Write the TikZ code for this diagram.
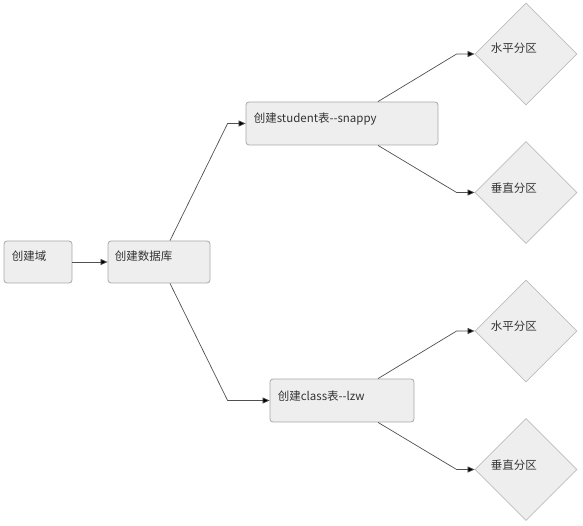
\documentclass[tikz,border=0pt]{standalone}
\usepackage{fontspec}
\newfontfamily\cjk{Noto Sans CJK SC}
\usetikzlibrary{shapes.geometric,arrows.meta}
\definecolor{boxfill}{HTML}{EEEEEE}
\definecolor{boxline}{HTML}{A8A8A8}
\definecolor{diaLine}{HTML}{BDBDBD}
\definecolor{txt}{HTML}{333333}
\definecolor{conncol}{HTML}{505050}
\tikzset{
  x=1pt, y=-1pt,
  boxnode/.style={draw=boxline, fill=boxfill, rounded corners=3pt, line width=0.8pt, inner sep=0pt},
  dianode/.style={diamond, aspect=1, draw=diaLine, fill=boxfill, line width=0.8pt, inner sep=0pt, minimum size=102pt},
  lbl/.style={anchor=west, inner sep=0pt, text=txt, font=\cjk\fontsize{11.5}{13}\selectfont},
  conn/.style={draw=conncol, line width=0.7pt, -{Triangle[length=7pt,width=6pt,fill=black]}},
}
\begin{document}
\begin{tikzpicture}
\useasboundingbox (0,0) rectangle (583,526);
\node[boxnode, minimum width=68pt, minimum height=42pt,
  label={[lbl, xshift=8pt, yshift=5.5pt]west:创建域}] (dom) at (38,262) {};
\node[boxnode, minimum width=102pt, minimum height=42pt,
  label={[lbl, xshift=7pt, yshift=5.5pt]west:创建数据库}] (db) at (159,262) {};
\node[boxnode, minimum width=192pt, minimum height=43pt,
  label={[lbl, xshift=8pt, yshift=4.5pt]west:创建student表--snappy}] (st) at (342,123.5) {};
\node[boxnode, minimum width=144pt, minimum height=43pt,
  label={[lbl, xshift=8pt, yshift=4.5pt]west:创建class表--lzw}] (cl) at (342,400.5) {};
\node[dianode, label={[lbl, xshift=16pt, yshift=5.5pt]west:水平分区}] (d1) at (526,54) {};
\node[dianode, label={[lbl, xshift=16pt, yshift=4.5pt]west:垂直分区}] (d2) at (526,192.5) {};
\node[dianode, label={[lbl, xshift=16pt, yshift=5pt]west:水平分区}] (d3) at (526,331) {};
\node[dianode, label={[lbl, xshift=16pt, yshift=4.5pt]west:垂直分区}] (d4) at (526,469.5) {};

\draw[conn] (dom.east) -- (db.west);
\draw[conn] ([xshift=11pt]db.north) -- ([xshift=-18pt]st.west) -- (st.west);
\draw[conn] ([xshift=11pt]db.south) -- ([xshift=-42pt]cl.west) -- (cl.west);
\draw[conn] ([xshift=36pt]st.north) -- ([xshift=-18pt]d1.west) -- (d1.west);
\draw[conn] ([xshift=36pt]st.south) -- ([xshift=-18pt]d2.west) -- (d2.west);
\draw[conn] ([xshift=36pt]cl.north) -- ([xshift=-18pt]d3.west) -- (d3.west);
\draw[conn] ([xshift=36pt]cl.south) -- ([xshift=-18pt]d4.west) -- (d4.west);
\end{tikzpicture}
\end{document}
